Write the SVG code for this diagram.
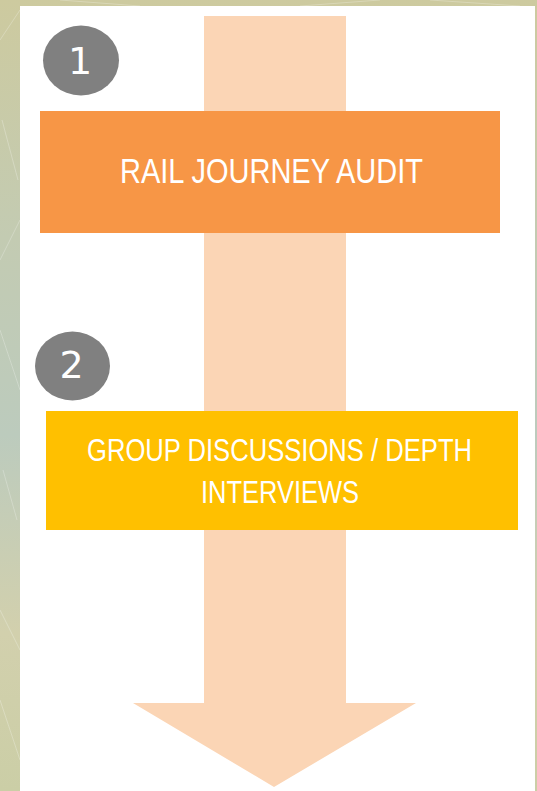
<svg xmlns="http://www.w3.org/2000/svg" width="537" height="791" viewBox="0 0 537 791">
  <defs>
    <linearGradient id="bg" x1="0" y1="0" x2="0" y2="1">
      <stop offset="0" stop-color="#cdca9f"/>
      <stop offset="0.3" stop-color="#c3cbb2"/>
      <stop offset="0.55" stop-color="#bccbbd"/>
      <stop offset="0.8" stop-color="#d2d0ad"/>
      <stop offset="1" stop-color="#cbcea6"/>
    </linearGradient>
    <style>
      .badge { fill: #808080; }
      .num { font-family: "DejaVu Sans", sans-serif; font-size: 38px; fill: #ffffff; text-anchor: middle; }
      .label { font-family: "Liberation Sans", Arial, sans-serif; fill: #ffffff; text-anchor: middle; }
    </style>
  </defs>
  <rect x="0" y="0" width="537" height="791" fill="url(#bg)"/>
  <g opacity="0.25" stroke="#ffffff" stroke-width="1" fill="none">
    <path d="M0 40 L20 10 M2 120 L18 180 M0 260 L20 220 M0 330 L20 390 M3 470 L17 520 M0 610 L20 650 M0 700 L20 760 M60 0 L140 6 M300 6 L380 0 M430 0 L520 6"/>
  </g>
  <rect x="20" y="6" width="515" height="785" fill="#ffffff"/>

  <g id="flow-arrow">
    <polygon points="204,16 346,16 346,703 416,703 274,787 133,703 204,703" fill="#fbd5b5"/>
  </g>

  <g id="connectors"></g>

  <g id="step1">
    <ellipse class="badge" cx="81" cy="60.5" rx="38" ry="35"/>
    <text class="num" x="80" y="74">1</text>
  </g>

  <g id="box1">
    <rect x="40" y="111" width="460" height="122" fill="#f79646"/>
    <text class="label" x="271.5" y="183" font-size="35" textLength="303" lengthAdjust="spacingAndGlyphs">RAIL JOURNEY AUDIT</text>
  </g>

  <g id="step2">
    <ellipse class="badge" cx="72.5" cy="366" rx="37.5" ry="34.5"/>
    <text class="num" x="71.5" y="377.5">2</text>
  </g>

  <g id="box2">
    <rect x="46" y="411" width="472" height="119" fill="#ffc000"/>
    <text class="label" x="279.5" y="461" font-size="32" textLength="385" lengthAdjust="spacingAndGlyphs">GROUP DISCUSSIONS / DEPTH</text>
    <text class="label" x="280" y="503" font-size="32" textLength="158" lengthAdjust="spacingAndGlyphs">INTERVIEWS</text>
  </g>
</svg>
